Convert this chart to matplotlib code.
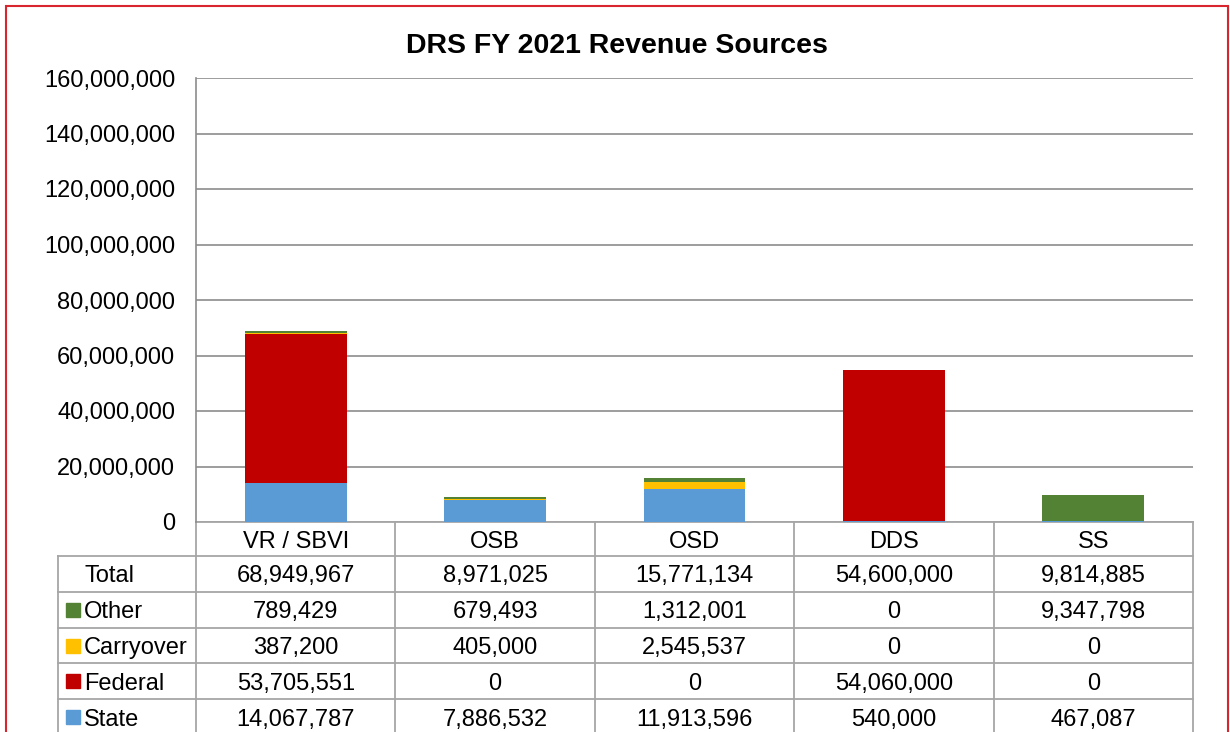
import matplotlib
matplotlib.use("Agg")
import matplotlib.pyplot as plt
from matplotlib.patches import Rectangle
from matplotlib.ticker import FuncFormatter

# --------------------------------------------
# DATA
# --------------------------------------------
units = ["VR / SBVI", "OSB", "OSD", "DDS", "SS"]
state = [14067787, 7886532, 11913596, 540000, 467087]
federal = [53705551, 0, 0, 54060000, 0]
carryover = [387200, 405000, 2545537, 0, 0]
other = [789429, 679493, 1312001, 0, 9347798]

series_names = ["State", "Federal", "Carryover", "Other"]
series_vals = [state, federal, carryover, other]
series_colors = ["#5B9BD5", "#C00000", "#FFC000", "#548235"]

totals = [sum(v) for v in zip(state, federal, carryover, other)]

plt.rcParams['font.family'] = ['Liberation Sans', 'DejaVu Sans']

W, H = 1230, 732
fig = plt.figure(figsize=(W / 100, H / 100), dpi=100)

# plot area in pixels: left 196, right 1193, top 78, bottom 522
ax = fig.add_axes([196 / W, (H - 522) / H, 997 / W, 444 / H])

x = list(range(len(units)))
bottom = [0] * len(units)
for name, vals, col in zip(series_names, series_vals, series_colors):
    ax.bar(x, vals, width=0.51, bottom=bottom, color=col, label=name, zorder=3)
    bottom = [b + v for b, v in zip(bottom, vals)]

ax.set_xlim(-0.5, len(units) - 0.5)
ax.set_ylim(0, 160_000_000)
ax.set_yticks(range(0, 160_000_001, 20_000_000))
ax.yaxis.set_major_formatter(FuncFormatter(lambda v, p: f"{int(v):,}"))
ax.tick_params(axis='y', length=0, pad=15, labelsize=17)
ax.set_xticks([])
ax.grid(axis='y', color='#8C8C8C', linewidth=1.2, zorder=0)
for s in ["top", "right", "bottom"]:
    ax.spines[s].set_visible(False)
ax.spines["left"].set_color('#8C8C8C')
ax.spines["left"].set_linewidth(1.2)

# --------------------------------------------
# DATA TABLE BELOW THE AXES
# --------------------------------------------
tr = ax.get_xaxis_transform()
px_x = 997 / len(units)          # pixels per category
px_y = 444                       # axes height in pixels
hh = 34 / px_y                   # header row height
rh = 35.8 / px_y                 # body row height
dy = 2.5 / px_y                  # nudge text down a bit
lab_left = -0.5 - 138 / px_x
lab_text = -0.5 - 112 / px_x
lab_sq = -0.5 - 123.5 / px_x
line_kw = dict(color='#A6A6A6', linewidth=1.3, transform=tr, clip_on=False)

rows = [("Total", totals, None)]
for name, vals, col in reversed(list(zip(series_names, series_vals, series_colors))):
    rows.append((name, vals, col))

n_rows = len(rows)
y_bot = -hh - rh * n_rows - 0.05

# horizontal lines
ax.plot([-0.5, len(units) - 0.5], [0, 0], **line_kw)
for r in range(n_rows + 1):
    y = -hh - r * rh
    ax.plot([lab_left, len(units) - 0.5], [y, y], **line_kw)
# vertical lines
for i in range(len(units) + 1):
    ax.plot([i - 0.5, i - 0.5], [0, y_bot], **line_kw)
ax.plot([lab_left, lab_left], [-hh, y_bot], **line_kw)

# header
for i, u in enumerate(units):
    ax.text(i, -hh / 2 - dy, u, transform=tr, ha='center', va='center', fontsize=17, clip_on=False)

# rows
for r, (name, vals, col) in enumerate(rows):
    yc = -hh - r * rh - rh / 2
    if col is not None:
        ax.plot([lab_sq], [yc], marker='s', markersize=9.5, color=col, transform=tr, clip_on=False)
    ax.text(lab_text, yc - dy, name, transform=tr, ha='left', va='center', fontsize=17, clip_on=False)
    for i, v in enumerate(vals):
        ax.text(i, yc - dy, f"{v:,}", transform=tr, ha='center', va='center', fontsize=17, clip_on=False)

# title
fig.text(616.5 / W, 1 - 46 / H, "DRS FY 2021 Revenue Sources", ha='center', va='center',
         fontsize=20.5, fontweight='bold')

# red outer border
fig.add_artist(Rectangle((6 / W, -0.05), (1227.5 - 6) / W, 1.05 - 5.7 / H,
                         transform=fig.transFigure, fill=False, edgecolor='#D9262E', linewidth=1.5))

plt.savefig("out.png", dpi=100)
plt.close()
